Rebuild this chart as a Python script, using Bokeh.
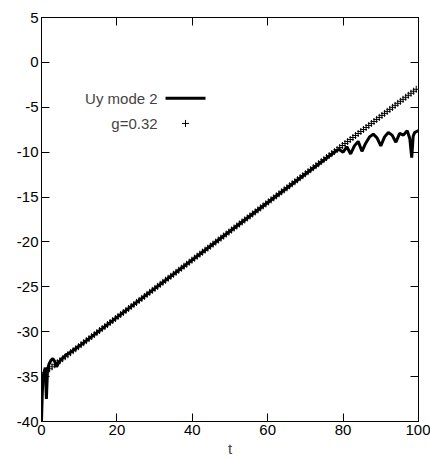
import numpy as np
from bokeh.plotting import figure
from bokeh.models import Label, LinearAxis, PrintfTickFormatter, CustomJSTickFormatter
from bokeh.embed import file_html
from bokeh.resources import INLINE

# Uy mode 2
uy_t = [0, 0.2, 0.4, 0.7, 1.0, 1.3, 1.6, 2.0, 2.5, 3.0, 3.5, 4.0, 4.5, 5.0, 5.5, 6.5, 8, 10,
        20, 40, 60, 78, 79, 80, 81, 82, 83, 84, 85, 86, 87, 88, 89, 90, 91, 92, 93, 94,
        95, 96, 97, 97.7, 98.2, 98.6, 99, 99.5, 100]
uy_y = [-40, -37, -35, -34.5, -34, -37.5, -34.2, -33.6, -33.2, -33.0, -33.3, -33.9, -33.5, -33.2,
        -33.0, -32.6, -32.2, -31.6, -28.4, -22.0, -15.6, -9.9, -9.7, -10.0, -9.4, -10.2, -9.3,
        -8.8, -9.9, -9.0, -8.3, -8.0, -8.4, -9.3, -8.3, -7.8, -8.1, -8.9, -7.9, -8.1, -7.6,
        -8.5, -10.6, -8.2, -7.8, -7.7, -7.6]

# growth-rate fit g=0.32
g = 0.32
fit_y0 = -34.8
fit_t = np.arange(0, 100.01, 0.7)
fit_y = fit_y0 + g * fit_t

# legend layout (data coords, gnuplot style: label then sample)
leg_text_x = 30.8
leg_rows_y = [-4.0, -6.8]
leg_line_x = [32.9, 43.5]
leg_mark_x = [38.2]

FONT = "Liberation Sans"
p = figure(width=430, height=459, x_range=(0, 100), y_range=(-40, 5),
           output_backend="svg", toolbar_location=None,
           x_axis_location=None, y_axis_location=None,
           background_fill_color="white", border_fill_color="white",
           min_border_left=41, min_border_right=12, min_border_top=17, min_border_bottom=29)

p.line(uy_t, uy_y, line_color="black", line_width=3)
p.scatter(fit_t, fit_y, marker="cross", size=7, line_color="black", line_width=1)

p.line(leg_line_x, [leg_rows_y[0]] * 2, line_color="black", line_width=3)
p.scatter(leg_mark_x, [leg_rows_y[1]], marker="cross", size=7, line_color="black", line_width=1)
for txt, yy in zip(["Uy mode 2", "g=0.32"], leg_rows_y):
    p.add_layout(Label(x=leg_text_x, y=yy, text=txt, text_align="right", text_baseline="middle",
                       text_font=FONT, text_font_size="15px"))

xt = [0, 20, 40, 60, 80, 100]
yt = list(range(-40, 6, 5))
blank = CustomJSTickFormatter(code="return ''")
xb = LinearAxis(ticker=xt, formatter=PrintfTickFormatter(format="%d"), axis_label="t")
yl = LinearAxis(ticker=yt, formatter=PrintfTickFormatter(format="%d"))
xa = LinearAxis(ticker=xt, formatter=blank)
yr = LinearAxis(ticker=yt, formatter=blank)
for ax in (xb, yl, xa, yr):
    ax.axis_line_color = "black"
    ax.major_tick_in = 8
    ax.major_tick_out = 0
    ax.minor_tick_line_color = None
    ax.major_label_text_font = FONT
    ax.major_label_text_font_size = "15px"
    ax.major_label_text_color = "black"
    ax.major_label_standoff = 3
xb.axis_label_text_font = FONT
xb.axis_label_text_font_style = "normal"
xb.axis_label_text_font_size = "15px"
xb.axis_label_standoff = 2
p.add_layout(xb, "below")
p.add_layout(yl, "left")
p.add_layout(xa, "above")
p.add_layout(yr, "right")

p.grid.visible = False
p.outline_line_color = "black"

open("out.html", "w").write(file_html(p, INLINE))
